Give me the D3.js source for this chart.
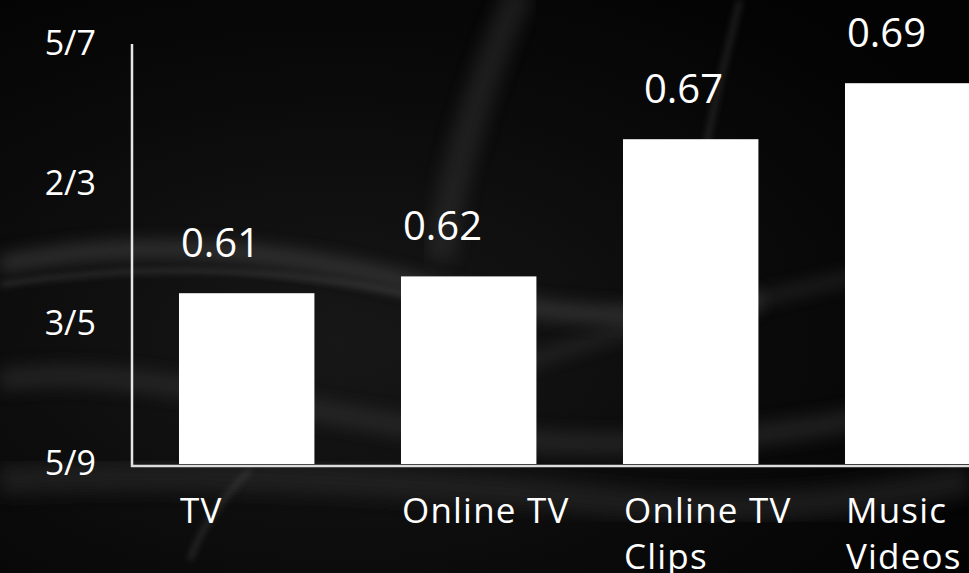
<!DOCTYPE html>
<html>
<head>
<meta charset="utf-8">
<script src="https://cdn.jsdelivr.net/npm/d3@7"></script>
<style>
  html, body { margin: 0; padding: 0; background: #050505; overflow: hidden; }
  svg { display: block; }
  text { font-family: "Open Sans", "Noto Sans", sans-serif; fill: #ffffff; }
</style>
</head>
<body>
<svg id="chart" width="969" height="573"></svg>
<script>
// ---- data ----
const categories = ["TV", "Online TV", "Online TV Clips", "Music Videos"];
const values = [0.611, 0.617, 0.666, 0.686];
const valueLabels = ["0.61", "0.62", "0.67", "0.69"];
const yTickValues = [0.55, 0.6, 0.65, 0.7];
const yTickLabels = ["5/9", "3/5", "2/3", "5/7"];

// ---- layout ----
const W = 969, H = 573;
const svg = d3.select("#chart");
const defs = svg.append("defs");

// background texture (decorative)
const bg = defs.append("radialGradient").attr("id", "bgGrad")
  .attr("cx", "35%").attr("cy", "60%").attr("r", "75%");
bg.append("stop").attr("offset", "0%").attr("stop-color", "#171717");
bg.append("stop").attr("offset", "60%").attr("stop-color", "#0a0a0a");
bg.append("stop").attr("offset", "100%").attr("stop-color", "#030303");
svg.append("rect").attr("width", W).attr("height", H).attr("fill", "url(#bgGrad)");

defs.append("filter").attr("id", "blur8").attr("x", "-20%").attr("y", "-50%").attr("width", "140%").attr("height", "200%")
  .append("feGaussianBlur").attr("stdDeviation", 8);
defs.append("filter").attr("id", "blur3").attr("x", "-20%").attr("y", "-50%").attr("width", "140%").attr("height", "200%")
  .append("feGaussianBlur").attr("stdDeviation", 3);

const deco = svg.append("g");
deco.append("path").attr("d", "M0,265 C120,240 260,245 400,280 C520,310 620,330 760,300")
  .attr("stroke", "#4a4a4a").attr("stroke-width", 18).attr("fill", "none").attr("opacity", 0.55).attr("filter", "url(#blur8)");
deco.append("path").attr("d", "M0,285 C150,262 300,268 430,300")
  .attr("stroke", "#777").attr("stroke-width", 4).attr("fill", "none").attr("opacity", 0.35).attr("filter", "url(#blur3)");
deco.append("path").attr("d", "M0,380 C150,360 300,420 520,440 C700,455 850,420 969,400")
  .attr("stroke", "#3a3a3a").attr("stroke-width", 22).attr("fill", "none").attr("opacity", 0.45).attr("filter", "url(#blur8)");
deco.append("path").attr("d", "M480,380 C600,330 760,300 969,250")
  .attr("stroke", "#555").attr("stroke-width", 10).attr("fill", "none").attr("opacity", 0.35).attr("filter", "url(#blur8)");
deco.append("path").attr("d", "M740,0 C720,80 700,160 700,200")
  .attr("stroke", "#444").attr("stroke-width", 6).attr("fill", "none").attr("opacity", 0.4).attr("filter", "url(#blur3)");
deco.append("path").attr("d", "M520,-10 C480,80 450,180 440,260")
  .attr("stroke", "#3a3a3a").attr("stroke-width", 30).attr("fill", "none").attr("opacity", 0.4).attr("filter", "url(#blur8)");
deco.append("path").attr("d", "M0,480 C200,470 400,480 600,500 C750,515 870,500 969,480")
  .attr("stroke", "#2e2e2e").attr("stroke-width", 30).attr("fill", "none").attr("opacity", 0.5).attr("filter", "url(#blur8)");
deco.append("path").attr("d", "M250,470 C220,500 200,530 190,560")
  .attr("stroke", "#555").attr("stroke-width", 5).attr("fill", "none").attr("opacity", 0.4).attr("filter", "url(#blur3)");

// ---- scales ----
const y = d3.scaleLinear().domain([0.55, 0.7]).range([464, 44]);
const x = d3.scaleBand().domain(categories).range([135.7, 1023.7])
  .paddingInner(0.39).paddingOuter(0.195);

// ---- bars ----
svg.append("g").selectAll("rect").data(values).join("rect")
  .attr("x", (d, i) => x(categories[i]))
  .attr("y", d => y(d))
  .attr("width", x.bandwidth())
  .attr("height", d => y(0.55) - y(d))
  .attr("fill", "#ffffff");

// ---- axes ----
const yAxis = d3.axisLeft(y).tickValues(yTickValues)
  .tickFormat((d, i) => yTickLabels[i]).tickSize(0).tickPadding(36);
const gy = svg.append("g").attr("transform", "translate(132,0)").call(yAxis);
gy.select(".domain").remove();
gy.selectAll("text").attr("font-size", 34).attr("fill", "#fff")
  .attr("font-family", "'Open Sans', 'Noto Sans', sans-serif");

svg.append("line").attr("x1", 132).attr("x2", 132).attr("y1", 44).attr("y2", 467)
  .attr("stroke", "#e6e6e6").attr("stroke-width", 2.5);
svg.append("line").attr("x1", 131).attr("x2", W).attr("y1", 466).attr("y2", 466)
  .attr("stroke", "#dddddd").attr("stroke-width", 2.5);

// category labels (wrapped)
const catG = svg.append("g");
categories.forEach((c, i) => {
  const t = catG.append("text")
    .attr("x", x(c) + 1).attr("y", 523)
    .attr("font-size", 35).attr("letter-spacing", 1.2);
  const words = c.split(" ");
  let line = [];
  let tspan = t.append("tspan").attr("x", x(c) + 1).attr("dy", 0);
  words.forEach(w => {
    line.push(w);
    tspan.text(line.join(" "));
    if (tspan.node().getComputedTextLength() > 190 && line.length > 1) {
      line.pop();
      tspan.text(line.join(" "));
      line = [w];
      tspan = t.append("tspan").attr("x", x(c) + 1).attr("dy", 46).text(w);
    }
  });
});

// value labels
const nudge = [0, 0, 19, 0];
svg.append("g").selectAll("text").data(values).join("text")
  .attr("x", (d, i) => x(categories[i]) + 2 + nudge[i])
  .attr("y", d => y(d) - 36)
  .attr("font-size", 40)
  .text((d, i) => valueLabels[i]);
</script>
</body>
</html>
